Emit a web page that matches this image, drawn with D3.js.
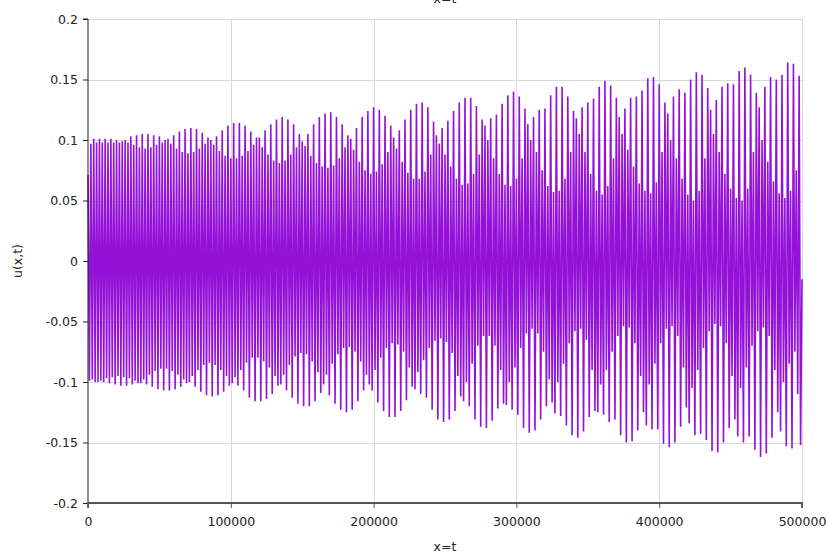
<!DOCTYPE html>
<html>
<head>
<meta charset="utf-8">
<script src="https://cdn.jsdelivr.net/npm/d3@7"></script>
<style>
  html, body { margin: 0; padding: 0; background: #fff; }
  svg { display: block; font-family: "DejaVu Sans", Verdana, sans-serif; }
</style>
</head>
<body>
<svg id="chart" width="828" height="553"></svg>
<script>
// sample spacing along x=t
const STEP = 1000;

// local maxima (even samples)
const peaks = [
  0.071,0.097,0.101,0.098,0.101,0.098,0.101,0.098,0.101,0.098,0.100,0.098,0.099,
  0.100,0.098,0.103,0.096,0.104,0.094,0.105,0.093,0.105,0.094,0.104,0.096,0.103,0.098,0.100,
  0.101,0.097,0.104,0.093,0.107,0.090,0.109,0.089,0.110,0.090,0.109,0.093,0.106,0.097,0.102,
  0.100,0.096,0.103,0.091,0.108,0.087,0.112,0.085,0.114,0.085,0.114,0.087,0.112,0.091,0.107,0.096,0.102,
  0.102,0.094,0.108,0.088,0.113,0.083,0.117,0.081,0.119,0.083,0.117,0.088,0.113,0.094,0.105,
  0.099,0.095,0.105,0.087,0.113,0.081,0.119,0.078,0.122,0.077,0.123,0.079,0.119,0.085,0.113,0.094,0.104,
  0.101,0.092,0.110,0.082,0.119,0.075,0.124,0.072,0.127,0.074,0.125,0.080,0.120,0.090,0.112,
  0.102,0.093,0.108,0.082,0.117,0.073,0.125,0.068,0.130,0.068,0.131,0.074,0.127,0.088,0.115,
  0.104,0.097,0.110,0.088,0.116,0.078,0.124,0.068,0.131,0.063,0.135,0.064,0.135,0.072,0.128,0.088,0.117,
  0.112,0.100,0.118,0.085,0.121,0.072,0.130,0.063,0.137,0.062,0.140,0.068,0.136,0.085,0.126,
  0.113,0.100,0.119,0.090,0.125,0.075,0.126,0.062,0.137,0.057,0.144,0.058,0.144,0.068,0.136,0.090,0.124,
  0.118,0.105,0.127,0.090,0.131,0.072,0.134,0.058,0.144,0.055,0.149,0.062,0.145,0.085,0.135,
  0.119,0.105,0.126,0.092,0.135,0.078,0.136,0.064,0.141,0.058,0.151,0.056,0.152,0.065,0.146,0.090,0.131,
  0.122,0.100,0.136,0.085,0.142,0.068,0.139,0.055,0.150,0.050,0.156,0.058,0.154,0.085,0.143,
  0.125,0.105,0.133,0.090,0.144,0.072,0.147,0.060,0.146,0.052,0.157,0.050,0.160,0.060,0.154,0.090,0.139,
  0.127,0.100,0.144,0.082,0.152,0.066,0.150,0.056,0.154,0.052,0.164,0.058,0.163,0.075,0.153,-0.015
];

// local minima (odd samples)
const troughs = [
  -0.099,-0.098,-0.100,
  -0.100,-0.099,-0.100,-0.097,-0.101,-0.096,-0.102,-0.095,-0.103,-0.096,-0.103,-0.097,-0.102,-0.099,-0.101,
  -0.101,-0.098,-0.102,-0.094,-0.104,-0.091,-0.106,-0.089,-0.107,-0.089,-0.107,-0.091,-0.106,-0.094,-0.104,-0.098,-0.101,
  -0.100,-0.095,-0.104,-0.090,-0.108,-0.086,-0.111,-0.084,-0.112,-0.086,-0.111,-0.090,-0.108,-0.095,-0.103,
  -0.101,-0.096,-0.103,-0.090,-0.107,-0.084,-0.113,-0.080,-0.116,-0.080,-0.116,-0.083,-0.114,-0.088,-0.110,-0.095,-0.103,
  -0.102,-0.094,-0.107,-0.086,-0.113,-0.079,-0.118,-0.076,-0.120,-0.077,-0.120,-0.083,-0.116,-0.092,-0.109,
  -0.102,-0.094,-0.111,-0.085,-0.118,-0.077,-0.123,-0.072,-0.125,-0.071,-0.123,-0.075,-0.116,-0.083,-0.107,-0.094,-0.102,
  -0.107,-0.090,-0.117,-0.080,-0.124,-0.072,-0.129,-0.068,-0.129,-0.069,-0.124,-0.075,-0.115,-0.088,-0.104,
  -0.106,-0.092,-0.110,-0.082,-0.113,-0.072,-0.123,-0.066,-0.131,-0.064,-0.133,-0.067,-0.131,-0.076,-0.124,-0.095,-0.112,
  -0.116,-0.100,-0.120,-0.085,-0.131,-0.070,-0.137,-0.062,-0.138,-0.062,-0.132,-0.070,-0.122,-0.090,-0.118,
  -0.119,-0.100,-0.123,-0.088,-0.127,-0.072,-0.138,-0.060,-0.142,-0.056,-0.140,-0.060,-0.131,-0.075,-0.120,-0.098,-0.117,
  -0.126,-0.100,-0.128,-0.085,-0.136,-0.068,-0.144,-0.058,-0.146,-0.056,-0.141,-0.065,-0.129,-0.090,-0.124,
  -0.125,-0.102,-0.127,-0.090,-0.133,-0.075,-0.131,-0.062,-0.144,-0.054,-0.150,-0.055,-0.149,-0.068,-0.140,-0.095,-0.125,
  -0.136,-0.102,-0.139,-0.085,-0.139,-0.068,-0.151,-0.056,-0.154,-0.054,-0.150,-0.062,-0.137,-0.088,-0.121,
  -0.134,-0.105,-0.144,-0.090,-0.143,-0.072,-0.148,-0.058,-0.157,-0.052,-0.158,-0.054,-0.150,-0.068,-0.138,-0.095,-0.131,
  -0.145,-0.105,-0.150,-0.088,-0.145,-0.070,-0.156,-0.058,-0.162,-0.055,-0.159,-0.062,-0.146,-0.090,-0.125,
  -0.141,-0.100,-0.153,-0.085,-0.155,-0.075,-0.110,-0.152
];

const xTicks = [0, 100000, 200000, 300000, 400000, 500000];
const yTicks = [-0.2, -0.15, -0.1, -0.05, 0, 0.05, 0.1, 0.15, 0.2];

const W = 828, H = 553;
const m = { top: 19, right: 26, bottom: 50, left: 88 };

const svg = d3.select("#chart");

const x = d3.scaleLinear().domain([0, 500000]).range([m.left, W - m.right]);
const y = d3.scaleLinear().domain([-0.2, 0.2]).range([H - m.bottom, m.top]);

// interleave maxima and minima into one series
const series = [];
peaks.forEach((p, i) => {
  series.push({ t: 2 * i * STEP, u: p });
  if (i < troughs.length) series.push({ t: (2 * i + 1) * STEP, u: troughs[i] });
});

// grid
const grid = svg.append("g").attr("stroke", "#d9d9d9").attr("stroke-width", 1);
grid.selectAll("line.gx").data(xTicks.slice(1)).join("line")
  .attr("x1", d => Math.round(x(d)) + 0.5).attr("x2", d => Math.round(x(d)) + 0.5)
  .attr("y1", y(0.2)).attr("y2", y(-0.2));
grid.selectAll("line.gy").data(yTicks.slice(1)).join("line")
  .attr("x1", x(0)).attr("x2", x(500000))
  .attr("y1", d => Math.round(y(d)) + 0.5).attr("y2", d => Math.round(y(d)) + 0.5);

// the signal
svg.append("path")
  .datum(series)
  .attr("fill", "none")
  .attr("stroke", "#9412d8")
  .attr("stroke-width", 1.6)
  .attr("d", d3.line().x(d => x(d.t)).y(d => y(d.u)));

// axes
const yAxis = svg.append("g")
  .attr("transform", `translate(${m.left},0)`)
  .call(d3.axisLeft(y).tickValues(yTicks).tickSize(5).tickPadding(5)
    .tickFormat(d => String(+d.toFixed(2))));
const xAxis = svg.append("g")
  .attr("transform", `translate(0,${H - m.bottom})`)
  .call(d3.axisBottom(x).tickValues(xTicks).tickSize(5).tickPadding(9)
    .tickFormat(d => String(d)));

yAxis.select(".domain").attr("d", `M-5,${y(0.2)}H0V${y(-0.2)}`).attr("stroke", "#222");
xAxis.select(".domain").attr("d", `M${x(0)},5V0H${x(500000)}V5`).attr("stroke", "#555").attr("stroke-width", 1.8);
yAxis.selectAll(".tick line").attr("stroke", "#222");
xAxis.selectAll(".tick line").attr("stroke", "#555");
[yAxis, xAxis].forEach(a => a.selectAll("text")
  .style("font-size", "12.5px").style("font-family", "DejaVu Sans, Verdana, sans-serif").attr("fill", "#222"));

// titles
svg.append("text")
  .attr("x", 22).attr("y", (y(0.2) + y(-0.2)) / 2)
  .attr("transform", `rotate(-90,22,${(y(0.2) + y(-0.2)) / 2})`)
  .attr("text-anchor", "middle")
  .style("font-size", "12.5px").attr("fill", "#222")
  .text("u(x,t)");
svg.append("text")
  .attr("x", 445).attr("y", 551)
  .attr("text-anchor", "middle")
  .style("font-size", "12.5px").attr("fill", "#222")
  .text("x=t");
// chart title, mostly above the visible area as in the original
svg.append("text")
  .attr("x", 445).attr("y", 3)
  .attr("text-anchor", "middle")
  .style("font-size", "12.5px").attr("fill", "#222")
  .text("x=t");
</script>
</body>
</html>
